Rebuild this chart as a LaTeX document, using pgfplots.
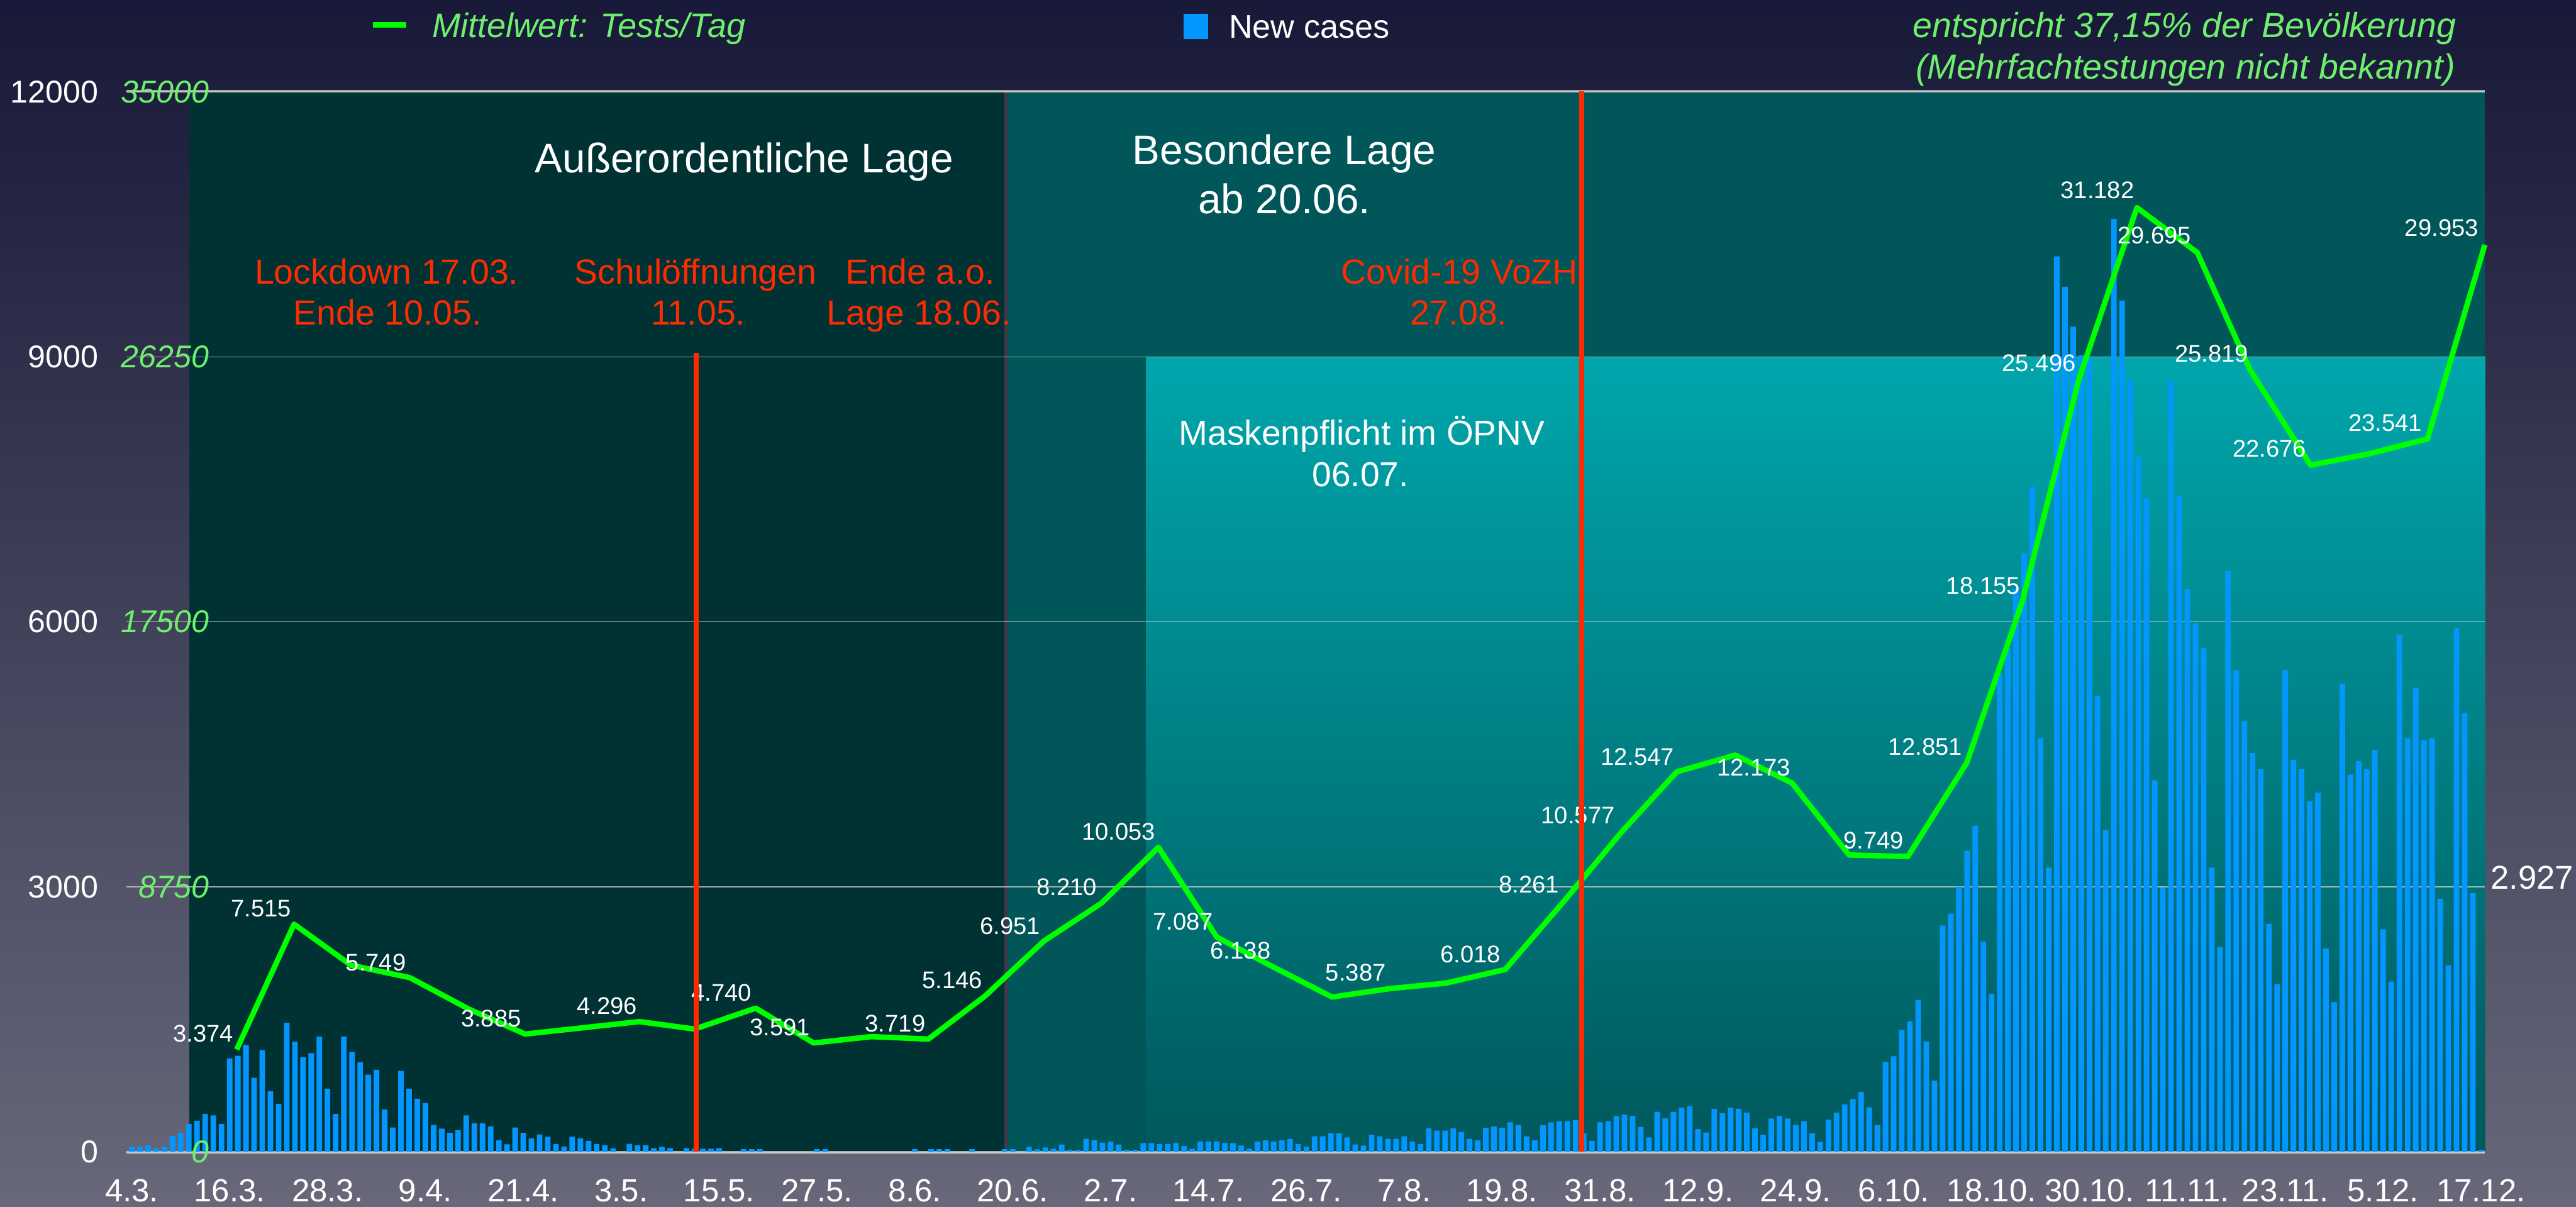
\documentclass[border=0pt]{standalone}
\usepackage{fontspec}
\setmainfont{Liberation Sans}
\usepackage{pgfplots}
\pgfplotsset{compat=1.18}
\definecolor{bgtop}{RGB}{24,24,56}
\definecolor{bgbot}{RGB}{104,104,122}
\definecolor{reg1}{RGB}{0,50,52}
\definecolor{reg2}{RGB}{0,86,88}
\definecolor{reg3top}{RGB}{0,166,172}
\definecolor{reg3bot}{RGB}{0,88,92}
\definecolor{sepc}{RGB}{58,58,72}
\definecolor{barblue}{RGB}{3,150,255}
\definecolor{lgreen}{RGB}{0,255,0}
\definecolor{tgreen}{RGB}{110,240,110}
\definecolor{redc}{RGB}{255,42,0}
\definecolor{gridc}{RGB}{200,200,200}
\newcommand{\fs}[1]{\fontsize{#1}{#1}\selectfont}
\begin{document}
\begin{tikzpicture}
\useasboundingbox (0,0) rectangle (996.8pt,466.8pt);
\shade[top color=bgtop, bottom color=bgbot] (0,0) rectangle (996.8pt,466.8pt);
\begin{scope}[x=0.2pt,y=-0.2pt,yshift=466.8pt]
 \fill[reg1] (366,177) rectangle (1948,2228);
 \fill[reg2] (1948,177) rectangle (4808,2228);
\end{scope}
\shade[top color=reg3top,bottom color=reg3bot] (443.4pt,21.2pt) rectangle (961.6pt,328.8pt);
\begin{scope}[x=0.2pt,y=-0.2pt,yshift=466.8pt]
 \fill[sepc] (1943,177) rectangle (1951,2228);
 \draw[gray!70!white, line width=1pt] (245,176) -- (4808,176);
 \draw[gray!40!white, line width=0.8pt] (245,2230) -- (4808,2230);
\end{scope}

\begin{axis}[
  at={(49pt,21.2pt)}, anchor=south west, scale only axis,
  width=912.6pt, height=410pt,
  xmin=-0.63, xmax=288.5, ymin=0, ymax=12000,
  axis line style={draw=none}, major tick length=0pt,
  scaled y ticks=false, scaled x ticks=false,
  xtick={0,12,...,288},
  xticklabels={4.3.,16.3.,28.3.,9.4.,21.4.,3.5.,15.5.,27.5.,8.6.,20.6.,2.7.,14.7.,26.7.,7.8.,19.8.,31.8.,12.9.,24.9.,6.10.,18.10.,30.10.,11.11.,23.11.,5.12.,17.12.},
  xticklabel style={font=\fs{12.4pt}, text=white, anchor=base, yshift=-19.4pt, inner sep=0pt},
  ytick={0,3000,6000,9000,12000},
  yticklabels={0,3000,6000,9000,12000},
  yticklabel style={font=\fs{12.2pt}, text=white, anchor=east, xshift=-10.8pt, inner sep=0pt},
  ymajorgrids, grid style={draw=gridc, line width=0.4pt, opacity=0.8},
]
\addplot[ybar, bar width=0.68, fill=barblue, draw=none] coordinates {
(0,55)(1,55)(2,71)(3,36)(4,55)(5,178)(6,213)(7,315)(8,350)(9,427)(10,410)(11,315)(12,1057)(13,1085)(14,1209)(15,837)(16,1150)(17,683)(18,540)(19,1460)(20,1244)(21,1069)(22,1116)(23,1303)(24,713)(25,427)(26,1303)(27,1130)(28,1010)(29,872)(30,927)(31,476)(32,273)(33,915)(34,713)(35,600)(36,552)(37,303)(38,261)(39,213)(40,244)(41,410)(42,320)(43,320)(44,287)(45,130)(46,83)(47,273)(48,213)(49,150)(50,195)(51,168)(52,85)(53,58)(54,168)(55,150)(56,122)(57,85)(58,75)(59,38)
(61,88)(62,75)(63,75)(64,41)(65,55)(66,41)(68,41)(69,33)(70,33)(71,33)(72,41)(75,28)(76,28)(77,28)(84,28)(85,28)(96,28)(98,28)(99,28)(100,28)(103,28)(107,28)(108,28)(110,55)
(111,26)(112,47)(113,34)(114,81)(115,21)(116,21)(117,145)(118,128)(119,102)(120,115)(121,81)(122,21)(123,21)(124,98)(125,98)(126,85)(127,85)(128,98)(129,64)(130,34)(131,115)(132,115)(133,115)(134,98)(135,98)(136,68)(137,34)(138,115)(139,128)(140,115)(141,128)(142,145)(143,85)(144,55)(145,174)(146,174)(147,209)(148,209)(149,162)(150,81)(151,68)(152,191)(153,174)(154,145)(155,145)(156,174)(157,115)(158,85)(159,264)(160,238)(161,238)(162,264)(163,221)(164,145)(165,128)(166,268)(167,285)(168,268)(169,332)(170,302)(171,174)(172,128)(173,298)(174,330)
(175,345)(176,345)(177,357)(178,209)(179,123)(180,332)(181,345)(182,404)(183,421)(184,404)(185,281)(186,162)(187,451)(188,379)(189,451)(190,498)(191,515)(192,255)(193,217)(194,485)(195,438)(196,498)(197,485)(198,443)(199,264)(200,191)(201,375)(202,404)(203,375)(204,302)(205,345)(206,209)(207,111)(208,362)(209,443)(210,536)(211,596)(212,677)(213,502)(214,302)(215,1017)(216,1081)(217,1379)(218,1473)(219,1717)(220,1247)(221,804)(222,2562)(223,2695)(224,3000)(225,3408)(226,3690)(227,2378)(228,1785)
(229,5419)(230,5701)(231,6372)(232,6781)(233,7529)(234,4685)(235,3217)(236,10139)(237,9794)(238,9342)(239,9018)(240,8982)(241,5158)(242,3641)(243,10563)(244,9638)(245,8742)(246,7874)(247,7402)(248,4205)(249,2992)(250,8735)(251,7423)(252,6372)(253,5983)(254,5701)(255,3217)(256,2314)
(257,6576)(258,5454)(259,4876)(260,4516)(261,4332)(262,2582)(263,1898)(264,5454)(265,4438)(266,4332)(267,3966)(268,4064)(269,2300)(270,1693)(271,5299)(272,4269)(273,4424)(274,4332)(275,4551)(276,2519)(277,1926)(278,5856)(279,4685)(280,5250)(281,4657)(282,4685)(283,2865)(284,2110)(285,5927)(286,4967)(287,2927)(288,20)
};
\end{axis}

\begin{axis}[
  at={(49pt,21.2pt)}, anchor=south west, scale only axis,
  width=912.6pt, height=410pt,
  xmin=-0.63, xmax=288.5, ymin=0, ymax=35000,
  axis line style={draw=none}, major tick length=0pt,
  scaled y ticks=false,
  xtick=\empty, clip=false,
  ytick={0,8750,17500,26250,35000},
  yticklabels={0,8750,17500,26250,35000},
  yticklabel style={font=\fs{12.2pt}\itshape, text=tgreen, anchor=east, xshift=32pt, inner sep=0pt},
]
\addplot[draw=lgreen, line width=2.1pt, line join=round] coordinates {
(12.86,3374)(19.90,7515)(26.87,6160)(34.09,5749)(41.32,4710)(48.23,3885)(62.23,4296)(69.01,4050)(76.49,4740)(83.59,3591)(90.68,3800)(97.66,3719)(104.63,5146)(111.79,6951)(118.88,8210)(125.86,10053)(133.02,7087)(139.67,6138)(147.15,5107)(154.25,5387)(161.09,5567)(168.38,6018)(175.54,8261)(182.70,10577)(189.42,12547)(196.58,13100)(203.55,12173)(210.52,9800)(217.74,9749)(224.97,12851)(231.75,18155)(238.69,25496)(245.82,31182)(253.23,29695)(259.70,25819)(267.11,22676)(274.27,23050)(281.43,23541)(288.47,29953)
};
\end{axis}

\begin{scope}[x=0.2pt,y=-0.2pt,yshift=466.8pt]
 % data labels
 \begin{scope}[every node/.style={text=white, font=\fs{9.3pt}, anchor=base west, inner sep=0pt}]
 \node at (334,2016) {3.374};
 \node at (446,1774) {7.515};
 \node at (668,1878) {5.749};
 \node at (891,1987) {3.885};
 \node at (1115,1962) {4.296};
 \node at (1337,1936) {4.740};
 \node at (1450,2004) {3.591};
 \node at (1673,1996) {3.719};
 \node at (1783,1912) {5.146};
 \node at (1895,1807) {6.951};
 \node at (2005,1732) {8.210};
 \node at (2092,1625) {10.053};
 \node at (2230,1799) {7.087};
 \node at (2341,1855) {6.138};
 \node at (2564,1898) {5.387};
 \node at (2786,1862) {6.018};
 \node at (2899,1727) {8.261};
 \node at (2981,1594) {10.577};
 \node at (3096,1480) {12.547};
 \node at (3321,1501) {12.173};
 \node at (3566,1642) {9.749};
 \node at (3653,1461) {12.851};
 \node at (3765,1149) {18.155};
 \node at (3873,718) {25.496};
 \node at (3986,384) {31.182};
 \node at (4096,471) {29.695};
 \node at (4207,700) {25.819};
 \node at (4319,884) {22.676};
 \node at (4543,834) {23.541};
 \node at (4652,457) {29.953};
 \end{scope}
 \node[text=white, font=\fs{12.8pt}, anchor=base west, inner sep=0pt] at (4818,1720) {2.927};
 % region titles
 \begin{scope}[every node/.style={text=white, font=\fs{16pt}, anchor=base, inner sep=0pt}]
 \node at (1440,334) {Außerordentliche Lage};
 \node at (2485,318) {Besondere Lage};
 \node at (2485,413) {ab 20.06.};
 \end{scope}
 \begin{scope}[every node/.style={text=white, font=\fs{13.4pt}, anchor=base, inner sep=0pt}]
 \node at (2635,861) {Maskenpflicht im ÖPNV};
 \node at (2632,941) {06.07.};
 \end{scope}
 % red lines
 \draw[redc, line width=2pt] (1347,683) -- (1347,2228);
 \draw[redc, line width=2pt] (3060,177) -- (3060,2228);
 \begin{scope}[every node/.style={text=redc, font=\fs{13.5pt}, anchor=base, inner sep=0pt}]
 \node at (748,550) {Lockdown 17.03.};
 \node at (750,629) {Ende 10.05.};
 \node at (1346,550) {Schulöffnungen};
 \node at (1351,629) {11.05.};
 \node at (1780,550) {Ende a.o.};
 \node at (1778,629) {Lage 18.06.};
 \node at (2824,550) {Covid-19 VoZH};
 \node at (2822,629) {27.08.};
 \end{scope}
 % legend
 \fill[lgreen] (722,43) rectangle (786,54);
 \node[text=tgreen, font=\fs{13.2pt}\itshape, anchor=base west, inner sep=0pt] at (835,73) {Mittelwert: Tests/Tag};
 \fill[barblue] (2290,27) rectangle (2338,75);
 \node[text=white, font=\fs{12.7pt}, anchor=base west, inner sep=0pt] at (2377,74) {New cases};
 \node[text=tgreen, font=\fs{13.5pt}\itshape, anchor=base east, inner sep=0pt] at (4753,73) {entspricht 37,15\% der Bevölkerung};
 \node[text=tgreen, font=\fs{13.5pt}\itshape, anchor=base east, inner sep=0pt] at (4751,153) {(Mehrfachtestungen nicht bekannt)};
\end{scope}
\end{tikzpicture}
\end{document}
